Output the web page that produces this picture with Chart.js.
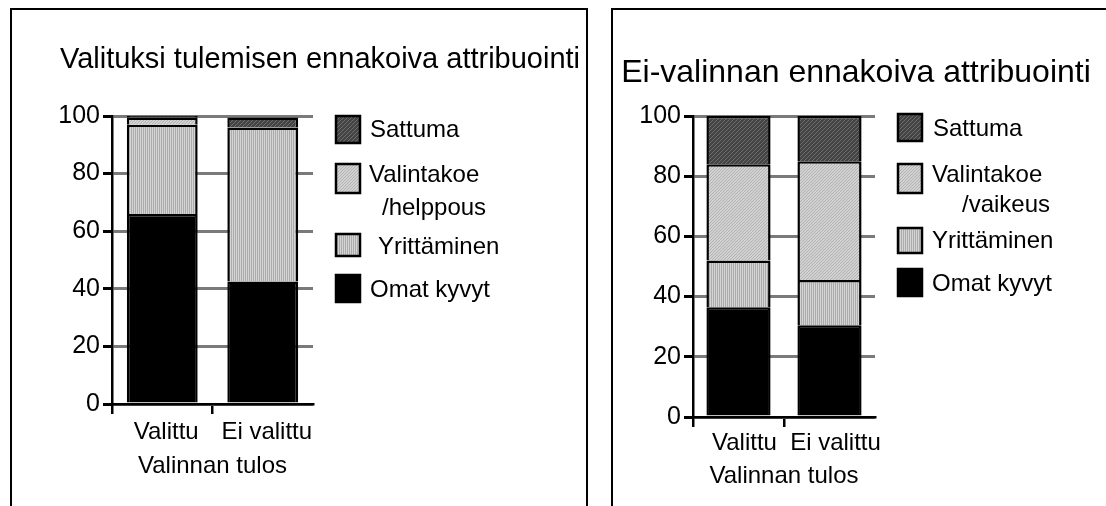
<!DOCTYPE html>
<html>
<head>
<meta charset="utf-8">
<script src="https://cdn.jsdelivr.net/npm/chart.js@4/dist/chart.umd.min.js"></script>
<style>
  body { margin: 0; background: #fff; width: 1106px; height: 506px; overflow: hidden; position: relative; }
  .panel { position: absolute; top: 8px; height: 540px; border: 2px solid #000; box-sizing: border-box; }
  #p1 { left: 10px; width: 578px; }
  #p2 { left: 611px; width: 540px; }
  canvas { position: absolute; top: 0; }
</style>
</head>
<body>
<div class="panel" id="p1"></div>
<div class="panel" id="p2"></div>
<canvas id="leftChart" width="590" height="506" style="left:0;width:590px;height:506px"></canvas>
<canvas id="rightChart" width="506" height="506" style="left:600px;width:506px;height:506px"></canvas>
<script>
// categories and tick labels
const categories = ['Valittu', 'Ei valittu'];
const yTicks = [0, 20, 40, 60, 80, 100];
const seriesNames = ['Omat kyvyt', 'Yrittäminen', 'Valintakoe', 'Sattuma'];

// left chart: Valituksi tulemisen ennakoiva attribuointi
const leftOmat = [66, 42.5];
const leftYrittaminen = [31, 53.5];
const leftValintakoe = [2.5, 0];
const leftSattuma = [0.5, 3.5];

// right chart: Ei-valinnan ennakoiva attribuointi
const rightOmat = [36.5, 30.5];
const rightYrittaminen = [15.5, 15];
const rightValintakoe = [32, 39.5];
const rightSattuma = [16, 15];

const FONT = '"Liberation Sans", Arial, sans-serif';

function makePattern(size, draw) {
    const c = document.createElement('canvas');
    c.width = size; c.height = size;
    draw(c.getContext('2d'));
    return document.createElement('canvas').getContext('2d').createPattern(c, 'repeat');
}

// fills
const darkHatch = makePattern(4, g => {
    g.fillStyle = '#444'; g.fillRect(0, 0, 4, 4);
    g.fillStyle = '#6e6e6e';
    g.fillRect(0, 0, 1, 1); g.fillRect(2, 2, 1, 1); g.fillRect(1, 3, 1, 1); g.fillRect(3, 1, 1, 1);
});
const lightDiag = makePattern(3, g => {
    g.fillStyle = '#d2d2d2'; g.fillRect(0, 0, 3, 3);
    g.fillStyle = '#b2b2b2';
    for (let i = 0; i < 3; i++) g.fillRect(i, 2 - i, 1, 1);
});
const vStripes = makePattern(2, g => {
    g.fillStyle = '#d4d4d4'; g.fillRect(0, 0, 2, 2);
    g.fillStyle = '#acacac'; g.fillRect(1, 0, 1, 2);
});
const fills = ['#000000', vStripes, lightDiag, darkHatch];

function datasets(values) {
    return values.map((v, i) => ({
        label: seriesNames[i],
        data: v,
        backgroundColor: fills[i],
        borderColor: '#000',
        borderWidth: 2.5,
        borderSkipped: 'bottom',
        categoryPercentage: 1,
        barPercentage: 0.705
    }));
}

// titles and legend drawn on the canvas
function decorPlugin(cfg) {
    return {
        id: 'decor',
        afterDraw(chart) {
            const ctx = chart.ctx;
            ctx.save();
            ctx.fillStyle = '#000';
            ctx.textBaseline = 'middle';
            ctx.textAlign = 'center';
            ctx.font = cfg.titleSize + 'px ' + FONT;
            ctx.fillText(cfg.title, cfg.titleX, cfg.titleY);
            ctx.textAlign = 'left';
            ctx.font = '24px ' + FONT;
            // legend runs top to bottom in reverse stacking order
            cfg.rows.forEach((row, k) => {
                const ds = chart.data.datasets[chart.data.datasets.length - 1 - k];
                ctx.fillStyle = ds.backgroundColor;
                ctx.fillRect(cfg.boxX, row.y, 26, row.h);
                ctx.lineWidth = 2.5;
                ctx.strokeStyle = '#000';
                ctx.strokeRect(cfg.boxX + 1, row.y + 1, 24, row.h - 2);
                ctx.fillStyle = '#000';
                row.text.forEach(t => ctx.fillText(t[0], t[1], t[2]));
            });
            ctx.restore();
        }
    };
}

function buildChart(id, values, lay, decor) {
    new Chart(document.getElementById(id), {
        type: 'bar',
        data: { labels: categories, datasets: datasets(values) },
        options: {
            responsive: false,
            animation: false,
            layout: { padding: { left: 0, top: lay.top, right: lay.right, bottom: 0 } },
            plugins: { legend: { display: false }, tooltip: { enabled: false } },
            scales: {
                x: {
                    stacked: true,
                    afterFit: s => { s.height = lay.xHeight; },
                    border: { color: '#000', width: 2.5 },
                    grid: {
                        drawOnChartArea: false,
                        tickLength: 10,
                        lineWidth: 2.5,
                        tickColor: c => c.index === undefined ? 'rgba(0,0,0,0)' : '#000'
                    },
                    ticks: {
                        color: '#000', font: { family: FONT, size: 24 },
                        padding: lay.xPad, labelOffset: lay.labelOffset,
                        maxRotation: 0, minRotation: 0, autoSkip: false
                    },
                    title: {
                        display: true, text: 'Valinnan tulos', color: '#000',
                        font: { family: FONT, size: 24 },
                        padding: { top: 0, bottom: lay.titlePad }
                    }
                },
                y: {
                    stacked: true,
                    min: 0, max: 100,
                    afterFit: s => { s.width = lay.yWidth; },
                    afterBuildTicks: s => { s.ticks = yTicks.map(v => ({ value: v })); },
                    border: { color: '#000', width: 2.5 },
                    grid: { color: '#7a7a7a', lineWidth: 3, tickColor: '#000', tickLength: 9 },
                    ticks: { color: '#000', font: { family: FONT, size: 25 }, padding: 3 }
                }
            }
        },
        plugins: [decorPlugin(decor)]
    });
}

buildChart('leftChart',
    [leftOmat, leftYrittaminen, leftValintakoe, leftSattuma],
    { top: 116, right: 277, xHeight: 102, xPad: 4, labelOffset: 4, titlePad: 25, yWidth: 112 },
    {
        title: 'Valituksi tulemisen ennakoiva attribuointi', titleSize: 29, titleX: 320, titleY: 60,
        boxX: 335,
        rows: [
            { y: 115, h: 29, text: [['Sattuma', 370, 130]] },
            { y: 163, h: 31, text: [['Valintakoe', 369, 175], ['/helppous', 382, 208]] },
            { y: 233, h: 24, text: [['Yrittäminen', 378, 247]] },
            { y: 274, h: 29, text: [['Omat kyvyt', 370, 290]] }
        ]
    });

buildChart('rightChart',
    [rightOmat, rightYrittaminen, rightValintakoe, rightSattuma],
    { top: 116, right: 231, xHeight: 89, xPad: 2, labelOffset: 6, titlePad: 15, yWidth: 93 },
    {
        title: 'Ei-valinnan ennakoiva attribuointi', titleSize: 32, titleX: 256, titleY: 73,
        boxX: 297,
        rows: [
            { y: 113, h: 29, text: [['Sattuma', 333, 129]] },
            { y: 163, h: 31, text: [['Valintakoe', 332, 175], ['/vaikeus', 362, 205]] },
            { y: 227, h: 27, text: [['Yrittäminen', 332, 241]] },
            { y: 268, h: 29, text: [['Omat kyvyt', 332, 284]] }
        ]
    });
</script>
</body>
</html>
